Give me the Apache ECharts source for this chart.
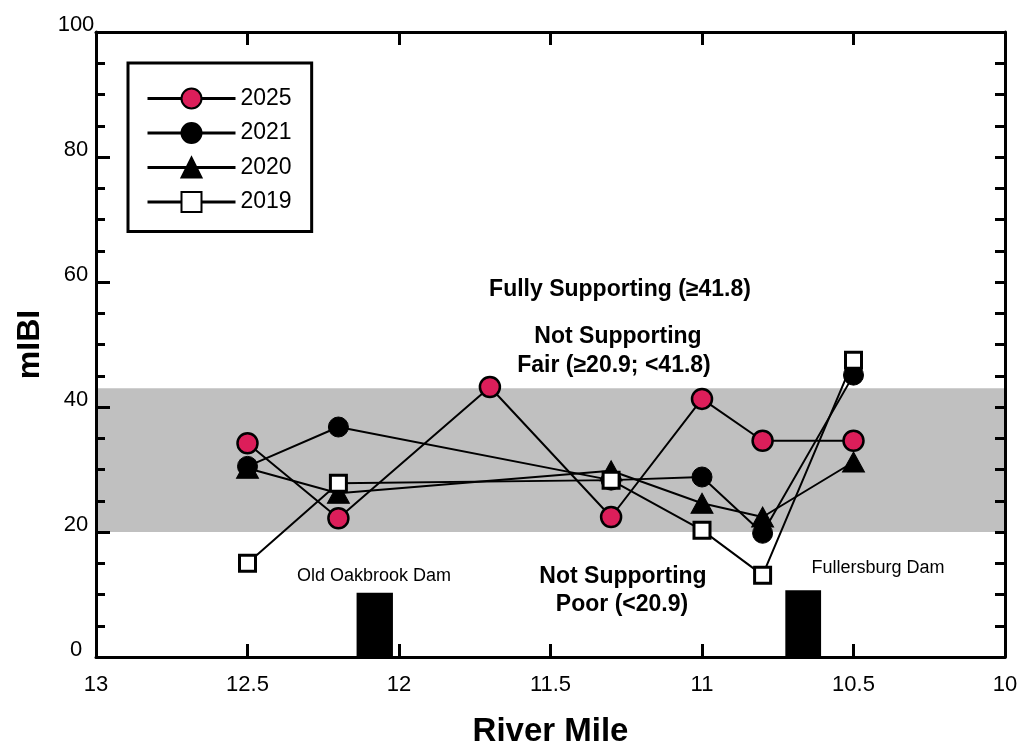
<!DOCTYPE html>
<html><head><meta charset="utf-8">
<script src="https://cdn.jsdelivr.net/npm/echarts@6/dist/echarts.min.js"></script>
<style>html,body{margin:0;padding:0;background:#fff}#c{width:1025px;height:747px}</style>
</head><body><div id="c"></div>
<script>
const FONT = '"Liberation Sans", Arial, sans-serif';

// River miles (x) for each survey
const miles2025 = [12.5, 12.2, 11.7, 11.3, 11.0, 10.8, 10.5];
const milesPrior = [12.5, 12.2, 11.3, 11.0, 10.8, 10.5];

// mIBI values
const mibi2025 = [34.2, 22.2, 43.2, 22.4, 41.3, 34.6, 34.6];
const mibi2021 = [30.5, 36.8, 28.3, 28.8, 19.8, 45.1];
const mibi2020 = [30.2, 26.2, 29.8, 24.6, 22.4, 31.2];
const mibi2019 = [15.0, 27.8, 28.3, 20.3, 13.1, 47.5];

// Fair band (as drawn) and dams
const fairBand = [20, 43];
const damOldOakbrook = [12.14, 12.02, 10.3]; // mile from, mile to, height
const damFullersburg = [10.725, 10.607, 10.7];

const legendOrder = ['2025', '2021', '2020', '2019'];

function pairs(xs, ys) { return xs.map((x, i) => [x, ys[i]]); }

const chart = echarts.init(document.getElementById('c'), null, {renderer: 'canvas'});

const axisLineStyle = {color: '#000', width: 3};
const ann = (text, x, y, size, weight) => ({
  type: 'text', x: x, y: y, z: 20, silent: true,
  style: {text: text, font: (weight || '') + ' ' + size + 'px ' + FONT, fill: '#000', align: 'center', verticalAlign: 'middle'}
});

const option = {
  animation: false,
  backgroundColor: '#fff',
  grid: {left: 96, right: 20, top: 32, bottom: 90, containLabel: false, outerBoundsMode: 'none'},
  xAxis: [{
    type: 'value', min: 10, max: 13, interval: 0.5, inverse: true, position: 'bottom', z: 10,
    axisLine: {show: true, onZero: false, lineStyle: axisLineStyle},
    axisTick: {show: true, inside: true, length: 13, lineStyle: axisLineStyle},
    splitLine: {show: false},
    axisLabel: {color: '#000', fontSize: 22, fontFamily: FONT, margin: 17},
    name: 'River Mile', nameLocation: 'middle', nameGap: 58,
    nameTextStyle: {color: '#000', fontSize: 33, fontWeight: 'bold', fontFamily: FONT}
  }, {
    type: 'value', min: 10, max: 13, interval: 0.5, inverse: true, position: 'top', z: 10,
    axisLine: {show: true, onZero: false, lineStyle: axisLineStyle},
    axisTick: {show: true, inside: true, length: 13, lineStyle: axisLineStyle},
    splitLine: {show: false}, axisLabel: {show: false}
  }],
  yAxis: [{
    type: 'value', min: 0, max: 100, interval: 20, position: 'left', z: 10,
    axisLine: {show: true, onZero: false, lineStyle: axisLineStyle},
    axisTick: {show: true, inside: true, length: 14, lineStyle: axisLineStyle},
    minorTick: {show: true, splitNumber: 4, length: 9, lineStyle: axisLineStyle},
    splitLine: {show: false},
    axisLabel: {color: '#000', fontSize: 22, fontFamily: FONT, align: 'center', margin: 20,
                verticalAlign: 'bottom', lineHeight: 15},
    name: 'mIBI', nameLocation: 'middle', nameGap: 50,
    nameTextStyle: {color: '#000', fontSize: 32, fontWeight: 'bold', fontFamily: FONT}
  }, {
    type: 'value', min: 0, max: 100, interval: 5, position: 'right', z: 10,
    axisLine: {show: true, onZero: false, lineStyle: axisLineStyle},
    axisTick: {show: true, inside: true, length: 10, lineStyle: axisLineStyle},
    splitLine: {show: false}, axisLabel: {show: false}
  }],
  legend: {
    data: legendOrder, orient: 'vertical', left: 128, top: 63,
    itemWidth: 88, itemHeight: 25, itemGap: 9.5,
    padding: [23, 20, 17, 18],
    borderColor: '#000', borderWidth: 3, backgroundColor: '#fff',
    lineStyle: {width: 3},
    textStyle: {fontSize: 23, fontFamily: FONT, color: '#000', lineHeight: 25},
    selectedMode: false
  },
  series: [
    {
      name: 'bands', type: 'line', data: [], z: 1, silent: true,
      markArea: {
        silent: true,
        data: [
          [{yAxis: fairBand[0], itemStyle: {color: '#c0c0c0'}}, {yAxis: fairBand[1]}],
          [{coord: [damOldOakbrook[0], 0], itemStyle: {color: '#000'}}, {coord: [damOldOakbrook[1], damOldOakbrook[2]]}],
          [{coord: [damFullersburg[0], 0], itemStyle: {color: '#000'}}, {coord: [damFullersburg[1], damFullersburg[2]]}]
        ]
      }
    },
    {
      name: '2021', type: 'line', data: pairs(milesPrior, mibi2021), z: 3,
      symbol: 'circle', symbolSize: 20,
      itemStyle: {color: '#000', borderColor: '#000', borderWidth: 1},
      lineStyle: {color: '#000', width: 2}, emphasis: {disabled: true}
    },
    {
      name: '2020', type: 'line', data: pairs(milesPrior, mibi2020), z: 4,
      symbol: 'triangle', symbolSize: [22, 20],
      itemStyle: {color: '#000', borderColor: '#000', borderWidth: 1},
      lineStyle: {color: '#000', width: 2}, emphasis: {disabled: true}
    },
    {
      name: '2019', type: 'line', data: pairs(milesPrior, mibi2019), z: 5,
      symbol: 'rect', symbolSize: 16,
      itemStyle: {color: '#fff', borderColor: '#000', borderWidth: 3},
      lineStyle: {color: '#000', width: 2}, emphasis: {disabled: true}
    },
    {
      name: '2025', type: 'line', data: pairs(miles2025, mibi2025), z: 6,
      symbol: 'circle', symbolSize: 20,
      itemStyle: {color: '#dc1e5a', borderColor: '#000', borderWidth: 2.5},
      lineStyle: {color: '#000', width: 2}, emphasis: {disabled: true}
    }
  ],
  graphic: [
    ann('Fully Supporting (≥41.8)', 620, 290, 23, 'bold'),
    ann('Not Supporting', 618, 337, 23, 'bold'),
    ann('Fair (≥20.9; <41.8)', 614, 366, 23, 'bold'),
    ann('Not Supporting', 623, 577, 23, 'bold'),
    ann('Poor (<20.9)', 622, 605, 23, 'bold'),
    ann('Old Oakbrook Dam', 374, 576, 18),
    ann('Fullersburg Dam', 878, 568, 18)
  ]
};
chart.setOption(option);
</script>
</body></html>
